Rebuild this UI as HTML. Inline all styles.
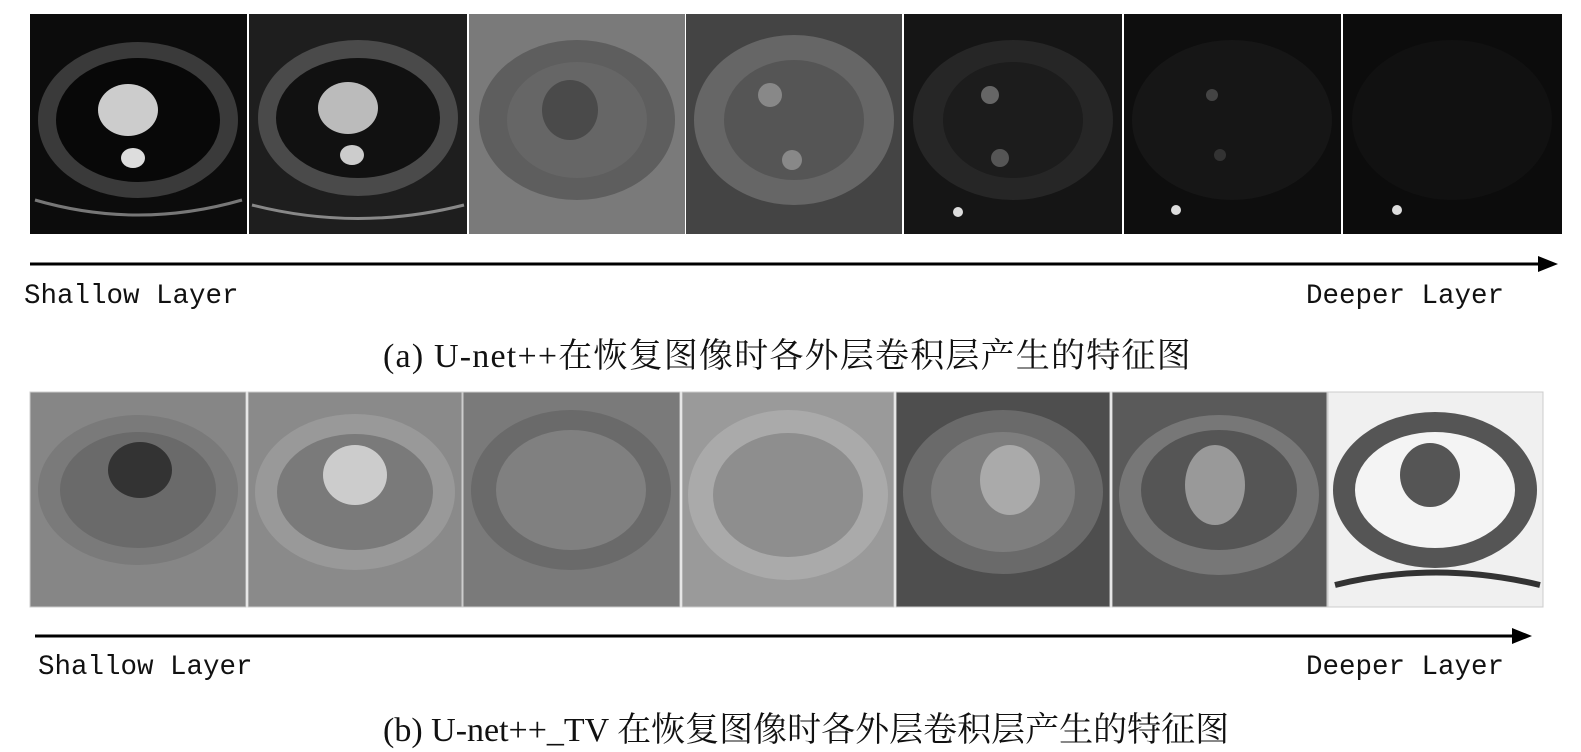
<!DOCTYPE html>
<html><head><meta charset="utf-8"><style>
body{margin:0;background:#fff;width:1581px;height:752px;overflow:hidden;position:relative}
.t{position:absolute;white-space:nowrap;line-height:1}
.m{font-family:"Liberation Mono",monospace;font-size:27.5px;color:#111}
.c{font-family:"Liberation Serif","Noto Serif CJK SC",serif;font-size:34px;color:#111}
</style></head><body>
<svg width="1581" height="752" style="position:absolute;left:0;top:0">
<g>
<rect x="30" y="14" width="217" height="220" fill="#0c0c0c"/>
<ellipse cx="138" cy="120" rx="100" ry="78" fill="#3a3a3a"/><ellipse cx="138" cy="120" rx="82" ry="62" fill="#080808"/>
<ellipse cx="128" cy="110" rx="30" ry="26" fill="#ccc"/><ellipse cx="133" cy="158" rx="12" ry="10" fill="#ddd"/>
<path d="M35 200 Q138 230 242 200" stroke="#777" stroke-width="3" fill="none"/>

<rect x="249" y="14" width="218" height="220" fill="#1e1e1e"/>
<ellipse cx="358" cy="118" rx="100" ry="78" fill="#4a4a4a"/><ellipse cx="358" cy="118" rx="82" ry="60" fill="#111"/>
<ellipse cx="348" cy="108" rx="30" ry="26" fill="#bbb"/><ellipse cx="352" cy="155" rx="12" ry="10" fill="#ccc"/>
<path d="M252 205 Q358 232 464 205" stroke="#888" stroke-width="3" fill="none"/>

<rect x="469" y="14" width="216" height="220" fill="#7a7a7a"/>
<ellipse cx="577" cy="120" rx="98" ry="80" fill="#5e5e5e"/><ellipse cx="577" cy="120" rx="70" ry="58" fill="#666"/>
<ellipse cx="570" cy="110" rx="28" ry="30" fill="#4a4a4a"/>

<rect x="686" y="14" width="216" height="220" fill="#444"/>
<ellipse cx="794" cy="120" rx="100" ry="85" fill="#666"/><ellipse cx="794" cy="120" rx="70" ry="60" fill="#555"/>
<circle cx="770" cy="95" r="12" fill="#888"/><circle cx="792" cy="160" r="10" fill="#888"/>

<rect x="904" y="14" width="218" height="220" fill="#151515"/>
<ellipse cx="1013" cy="120" rx="100" ry="80" fill="#262626"/><ellipse cx="1013" cy="120" rx="70" ry="58" fill="#1c1c1c"/>
<circle cx="990" cy="95" r="9" fill="#666"/><circle cx="1000" cy="158" r="9" fill="#555"/><circle cx="958" cy="212" r="5" fill="#ddd"/>

<rect x="1124" y="14" width="217" height="220" fill="#0e0e0e"/>
<ellipse cx="1232" cy="120" rx="100" ry="80" fill="#161616"/>
<circle cx="1212" cy="95" r="6" fill="#444"/><circle cx="1220" cy="155" r="6" fill="#333"/><circle cx="1176" cy="210" r="5" fill="#ddd"/>

<rect x="1343" y="14" width="219" height="220" fill="#0c0c0c"/>
<ellipse cx="1452" cy="120" rx="100" ry="80" fill="#111"/><circle cx="1397" cy="210" r="5" fill="#ddd"/>
</g>
<line x1="30" y1="264" x2="1540" y2="264" stroke="#000" stroke-width="3"/>
<polygon points="1558,264 1538,256 1538,272" fill="#000"/>

<g stroke="#ccc" stroke-width="1">
<rect x="30" y="392" width="216" height="215" fill="#868686"/>
<rect x="248" y="392" width="214" height="215" fill="#8a8a8a"/>
<rect x="463" y="392" width="217" height="215" fill="#7a7a7a"/>
<rect x="682" y="392" width="212" height="215" fill="#9a9a9a"/>
<rect x="896" y="392" width="214" height="215" fill="#4e4e4e"/>
<rect x="1112" y="392" width="215" height="215" fill="#5a5a5a"/>
<rect x="1328" y="392" width="215" height="215" fill="#f0f0f0"/>
</g>
<ellipse cx="138" cy="490" rx="100" ry="75" fill="#7a7a7a"/><ellipse cx="138" cy="490" rx="78" ry="58" fill="#6a6a6a"/><ellipse cx="140" cy="470" rx="32" ry="28" fill="#333"/>
<ellipse cx="355" cy="492" rx="100" ry="78" fill="#999"/><ellipse cx="355" cy="492" rx="78" ry="58" fill="#7a7a7a"/><ellipse cx="355" cy="475" rx="32" ry="30" fill="#ccc"/>
<ellipse cx="571" cy="490" rx="100" ry="80" fill="#6a6a6a"/><ellipse cx="571" cy="490" rx="75" ry="60" fill="#808080"/>
<ellipse cx="788" cy="495" rx="100" ry="85" fill="#aaa"/><ellipse cx="788" cy="495" rx="75" ry="62" fill="#8e8e8e"/>
<ellipse cx="1003" cy="492" rx="100" ry="82" fill="#6a6a6a"/><ellipse cx="1003" cy="492" rx="72" ry="60" fill="#7e7e7e"/><ellipse cx="1010" cy="480" rx="30" ry="35" fill="#aaa"/>
<ellipse cx="1219" cy="495" rx="100" ry="80" fill="#777"/><ellipse cx="1219" cy="490" rx="78" ry="60" fill="#555"/><ellipse cx="1215" cy="485" rx="30" ry="40" fill="#999"/>
<ellipse cx="1435" cy="490" rx="102" ry="78" fill="#555"/><ellipse cx="1435" cy="490" rx="80" ry="58" fill="#f4f4f4"/><ellipse cx="1430" cy="475" rx="30" ry="32" fill="#555"/>
<path d="M1335 585 Q1435 560 1540 585" stroke="#333" stroke-width="6" fill="none"/>
<line x1="35" y1="636" x2="1515" y2="636" stroke="#000" stroke-width="3"/>
<polygon points="1532,636 1512,628 1512,644" fill="#000"/>
</svg>
<div class="t m" style="left:24px;top:283px">Shallow Layer</div>
<div class="t m" style="left:1306px;top:283px">Deeper Layer</div>
<div class="t c" style="left:383px;top:340px;letter-spacing:1.2px">(a) U-net++在恢复图像时各外层卷积层产生的特征图</div>
<div class="t m" style="left:38px;top:654px">Shallow Layer</div>
<div class="t m" style="left:1306px;top:654px">Deeper Layer</div>
<div class="t c" style="left:383px;top:714px">(b) U-net++_TV 在恢复图像时各外层卷积层产生的特征图</div>
</body></html>
